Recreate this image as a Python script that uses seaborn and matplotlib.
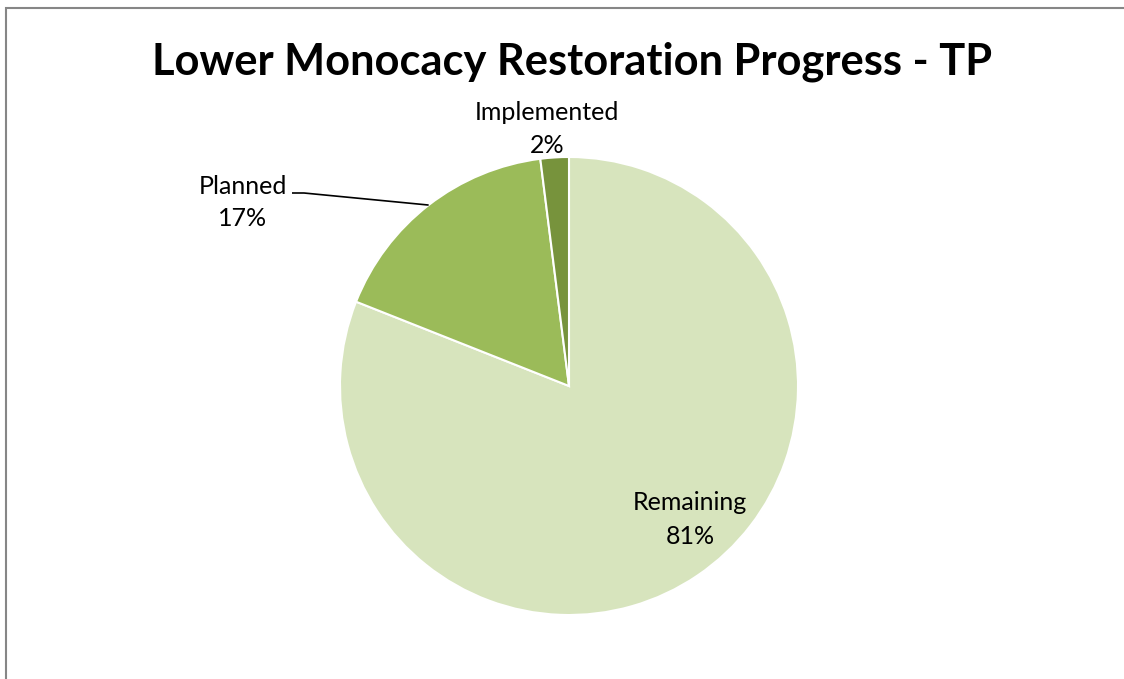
import matplotlib
matplotlib.use("Agg")
import matplotlib.pyplot as plt
import seaborn as sns
import numpy as np

# Share of total phosphorus (TP) load reduction by restoration status
categories = ["Remaining", "Planned", "Implemented"]
shares = [81, 17, 2]
pct_labels = ["81%", "17%", "2%"]
slice_colors = ["#D7E4BD", "#9BBB59", "#77933C"]
title = "Lower Monocacy Restoration Progress - TP"

sns.set_theme(style="white")
plt.rcParams["font.family"] = ["Lato", "DejaVu Sans"]

W, H = 1124, 679
fig = plt.figure(figsize=(W / 100, H / 100), dpi=100)
fig.patch.set_facecolor("white")

# pie geometry in pixels
cx, cy, r_px = 569, 386, 229
ax = fig.add_axes([0, 0, 1, 1])

wedges, _ = ax.pie(
    shares,
    colors=slice_colors,
    startangle=90,
    counterclock=False,
    radius=1.0,
    wedgeprops=dict(edgecolor="white", linewidth=1.5),
)
ax.set_xlim(-cx / r_px, (W - cx) / r_px)
ax.set_ylim(-(H - cy) / r_px, cy / r_px)
ax.set_aspect("equal")
ax.axis("off")


def px(x, y):
    """pixel position (top-left origin) to data coordinates"""
    return (x - cx) / r_px, (cy - y) / r_px


label_fs = 18
# Remaining label inside its slice
ax.text(*px(690, 503), categories[0], ha="center", va="center", fontsize=label_fs, color="black")
ax.text(*px(690, 536), pct_labels[0], ha="center", va="center", fontsize=label_fs, color="black")
# Implemented label above the pie
ax.text(*px(547, 112), categories[2], ha="center", va="center", fontsize=label_fs, color="black")
ax.text(*px(547, 145), pct_labels[2], ha="center", va="center", fontsize=label_fs, color="black")
# Planned label with leader line to the slice middle
ax.text(*px(243, 186), categories[1], ha="center", va="center", fontsize=label_fs, color="black")
ax.text(*px(243, 219), pct_labels[1], ha="center", va="center", fontsize=label_fs, color="black")

w = wedges[1]
mid = np.deg2rad((w.theta1 + w.theta2) / 2)
edge = (np.cos(mid), np.sin(mid))
p0 = px(292, 193)
p1 = px(304, 193)
ax.plot([p0[0], p1[0], edge[0]], [p0[1], p1[1], edge[1]], color="black", lw=1.2,
        solid_capstyle="butt")

fig.text(572 / W, 1 - 74 / H, title, ha="center", va="baseline",
         fontsize=31.2, fontweight="bold", color="black")

# chart frame
fig.add_artist(plt.Rectangle((6.5 / W, -0.1), 1.2, 1 - 8.5 / H + 0.1,
                             transform=fig.transFigure, fill=False,
                             edgecolor="#868686", linewidth=1.5))

fig.savefig("out.png", dpi=100)
